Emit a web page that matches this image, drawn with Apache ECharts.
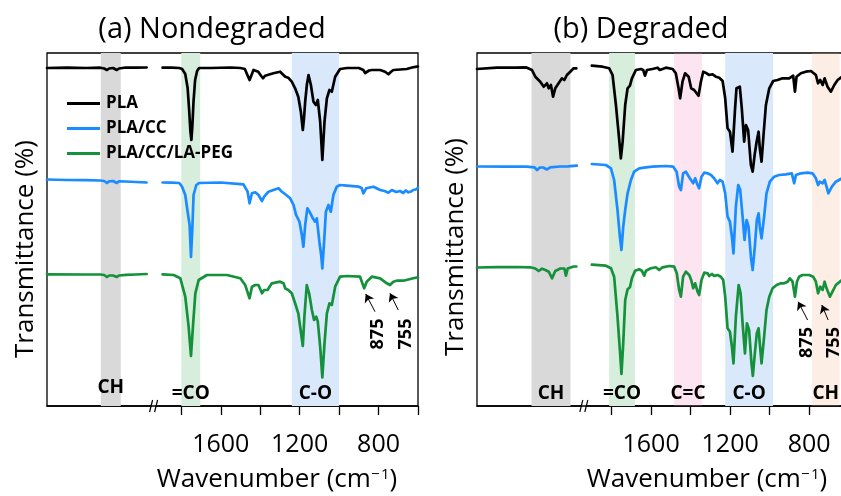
<!DOCTYPE html>
<html><head><meta charset="utf-8">
<script src="https://cdn.jsdelivr.net/npm/echarts@6/dist/echarts.min.js"></script>
<style>html,body{margin:0;padding:0;background:#fff}#c{width:841px;height:496px}</style>
</head><body><div id="c"></div>
<script>
// ---------- DATA: [wavenumber (cm-1), transmittance (a.u., offset spectra)] ----------
const nondegPLA = [[3300,338],[3200,338.3],[3100,338],[3030,338.3],[3010,337.5],[2996,336],[2985,337.5],[2965,338],[2946,336],[2935,337.5],[2900,338.5],[2850,338.3],[2795,338.5],
[1895,338.3],[1850,338.3],[1810,338],[1796,337],[1780,332],[1768,318],[1760,295],[1754,275],[1749,266],[1744,280],[1738,305],[1730,326],[1720,335],[1710,338],[1650,338],[1550,338.5],[1500,338],[1478,337],[1465,331],[1454,326],[1444,331],[1434,336],[1410,334.3],[1395,330],[1386,327.7],[1375,330.3],[1333,332.7],[1299,334.3],[1273,329.3],[1258,328.3],[1240,324.3],[1223,317.7],[1207,309.3],[1194,294.3],[1184,276],[1178,287.7],[1172,304.3],[1163,322],[1155,331],[1143,321],[1130,304.3],[1118,301],[1108,306],[1096,284.3],[1085,246],[1074,284.3],[1062,307.7],[1049,316],[1037,314.3],[1020,329.3],[995,337],[960,338],[900,338],[877,336],[868,333],[860,332.7],[848,335.5],[834,336],[792,336],[767,334.3],[750,331.7],[738,334],[725,336],[690,336.5],[657,337],[630,338.5],[607,339.3],[600,339.5]];

const nondegCC = [[3300,226.5],[3200,226],[3100,225.8],[3030,225.5],[3010,225],[2996,223],[2985,224.7],[2965,225],[2946,223],[2935,224.7],[2900,224.5],[2850,224],[2795,223.5],
[1895,223.5],[1850,223.3],[1810,223],[1796,219.3],[1780,211],[1768,194.3],[1758,181],[1751,149],[1744,177.7],[1738,211],[1724,221],[1710,223],[1600,223.5],[1485,221.7],[1464,214.3],[1454,202.7],[1442,212.7],[1425,213.7],[1409,211],[1391,205],[1380,209.3],[1358,214.3],[1333,216],[1307,217.7],[1290,214.3],[1273,211.7],[1248,207.7],[1231,201],[1218,191],[1201,184.3],[1189,171],[1181,159.3],[1172,181],[1161,197.7],[1150,194.3],[1133,187.7],[1122,184.3],[1113,187.7],[1100,164.3],[1091,151],[1085,137.7],[1076,164.3],[1067,194.3],[1054,201],[1042,194.3],[1029,211],[1012,219.3],[995,221],[961,220.3],[900,219.3],[886,218],[877,212.7],[863,217.7],[826,219.3],[792,216],[770,215],[750,213.3],[733,216],[710,214],[691,215],[675,213],[662,215.5],[649,213.7],[635,214.5],[624,216],[612,216.5],[600,218.3]];

const nondegPEG = [[3300,131.7],[3100,131.5],[3030,131.5],[3010,131],[2996,129],[2985,130.5],[2965,130.5],[2946,129],[2935,130.5],[2900,131.2],[2850,131.5],[2795,132],
[1895,131.7],[1839,131],[1805,127.7],[1780,109.3],[1763,79.3],[1751,50],[1741,79.3],[1729,112.7],[1712,126],[1670,131],[1569,131],[1501,127.7],[1476,121],[1454,107.7],[1442,119.3],[1425,121],[1409,121],[1391,112.7],[1380,116],[1363,116],[1341,122.7],[1299,124.3],[1282,122.7],[1273,117.7],[1258,116],[1240,112.7],[1223,102.7],[1207,92.7],[1184,60],[1176,89.3],[1164,121],[1152,112.7],[1138,96],[1127,86],[1116,89.3],[1108,84.3],[1096,59.3],[1085,28.7],[1074,62.7],[1062,92.7],[1049,102.7],[1037,101],[1020,119.3],[995,129.3],[961,130],[894,129.3],[873,117.7],[860,124.3],[834,129.3],[792,127.7],[758,122.7],[742,121],[725,124.3],[708,125.3],[674,125.3],[624,127.7],[600,128.7]];

const degPLA = [[3300,337],[3200,338.3],[3100,338.3],[3060,338.7],[3047,338.3],[3022,336],[3005,329.3],[2980,324.3],[2962,319.3],[2946,322.7],[2937,317.7],[2926,321],[2915,309.3],[2904,317.7],[2887,322.7],[2870,327.7],[2858,326],[2845,331],[2828,334.3],[2811,337.7],[2797,337.7],
[1900,340.3],[1846,339.3],[1812,337.7],[1795,331],[1778,301],[1762,267.7],[1753,247.7],[1744,264.3],[1731,301],[1719,317.7],[1707,320.3],[1697,327.7],[1677,336],[1652,337],[1640,336],[1631,330.3],[1621,336],[1593,337],[1567,338.3],[1556,336],[1525,338.3],[1491,337],[1475,332.7],[1461,317.7],[1453,307.7],[1441,324.3],[1428,332.7],[1410,329.3],[1397,317.7],[1382,316],[1373,314.3],[1360,310.3],[1348,324.3],[1336,334.3],[1319,332.7],[1306,331],[1289,331.7],[1272,329.3],[1255,328.3],[1238,325],[1225,307.7],[1213,277.7],[1201,274.3],[1188,254.3],[1176,294.3],[1168,317.7],[1151,319.3],[1141,297.7],[1129,264.3],[1120,281],[1109,276],[1095,241],[1086,234.3],[1076,251],[1066,264.3],[1056,274.3],[1050,257.7],[1041,244.3],[1031,271],[1019,301],[1002,317.7],[982,325],[960,326],[935,327.7],[901,327.7],[881,330.3],[872,314.3],[864,329.3],[842,332.7],[817,334.3],[791,335],[766,331],[755,322.7],[744,326],[732,321],[722,327.7],[707,319.3],[690,314.3],[673,321],[656,326],[634,329.3],[615,331],[600,332]];

const degCC = [[3300,239.5],[3150,239.3],[3050,239.3],[3010,238.7],[2996,236],[2982,238.5],[2965,238.5],[2946,236.5],[2930,238.7],[2880,239.5],[2840,239.7],[2795,240.3],
[1900,242],[1829,241],[1803,237.7],[1787,226],[1770,196],[1758,169.3],[1750,156],[1741,179.3],[1731,196],[1719,212.7],[1702,226],[1686,234.3],[1660,237.7],[1626,238.7],[1593,239.3],[1525,240],[1488,239.3],[1471,234.3],[1458,219.3],[1449,216],[1438,232.7],[1424,234.3],[1404,227.7],[1387,222.7],[1377,227.7],[1365,221],[1357,217.7],[1345,229.3],[1331,233.3],[1314,232.7],[1297,231],[1281,227.7],[1264,222.7],[1252,226],[1238,224.3],[1225,212.7],[1213,189.3],[1201,184.3],[1191,169.3],[1183,152.7],[1171,199.3],[1159,221],[1149,216],[1137,189.3],[1127,166],[1117,186],[1107,179.3],[1095,149.3],[1086,136],[1075,159.3],[1065,186],[1056,192.7],[1050,179.3],[1041,167.7],[1028,189.3],[1016,212.7],[999,224.3],[977,229.3],[952,231],[918,231.7],[888,232.7],[876,222.7],[867,231],[842,232.7],[808,233.3],[783,232.7],[766,227.7],[755,221],[746,224.3],[732,222.7],[722,226],[712,219.3],[703,212.7],[685,219.3],[665,224.3],[634,227.7],[615,230],[600,231]];

const degPEG = [[3300,138.5],[3200,138.8],[3100,139],[3030,138.7],[3005,137.5],[2988,135],[2971,137.3],[2954,136],[2937,134.3],[2920,127.7],[2904,135],[2878,137.5],[2858,137.5],[2850,130.3],[2841,137.5],[2811,139.5],[2797,139.5],
[1900,141.3],[1829,140.3],[1803,137.7],[1787,129.3],[1770,89.3],[1758,56],[1750,32],[1741,62.7],[1731,106],[1719,116.7],[1707,118.7],[1697,127.7],[1681,135.3],[1660,136.7],[1647,135.3],[1635,130.3],[1626,135.3],[1601,137.7],[1576,138.7],[1559,136],[1542,138.7],[1508,140],[1483,139.3],[1470,132.7],[1458,116],[1449,109.3],[1438,129.3],[1424,134.3],[1407,131],[1397,126],[1387,117.7],[1377,122.7],[1365,114.3],[1357,111],[1345,126],[1331,133.3],[1314,132.7],[1306,130],[1292,132],[1281,130],[1264,131],[1247,129.3],[1235,126],[1225,109.3],[1213,77.7],[1201,74.3],[1191,59.3],[1183,42.7],[1171,89.3],[1157,121],[1147,112.7],[1137,82.7],[1125,52.7],[1115,82.7],[1104,76],[1092,42.7],[1085,30],[1075,52.7],[1065,72.7],[1056,77.7],[1050,62.7],[1041,42.7],[1028,69.3],[1016,96],[1002,109.3],[985,117.7],[965,121],[943,122.7],[927,122.7],[909,124.3],[898,127.7],[884,124.3],[872,109.3],[862,124.3],[851,129.3],[834,131],[800,131],[780,129.3],[766,124.3],[755,112.7],[744,119.3],[732,116],[722,124.3],[712,117.7],[695,109.3],[682,114.3],[665,121],[634,126],[615,128],[600,129]];

const seriesNames = ['PLA', 'PLA/CC', 'PLA/CC/LA-PEG'];
const tickValues = [1800, 1600, 1400, 1200, 1000, 800, 600];
const labelValues = [1600, 1200, 800];

// bands: [label, from, to, kind]
const bandsA = [['CH', 3027, 2926, 'gray'], ['=CO', 1800, 1704, 'green'], ['C-O', 1240, 1000, 'blue']];
const bandsB = [['CH', 3024, 2827, 'gray'], ['=CO', 1812, 1682, 'green'], ['C=C', 1484, 1343, 'pink'], ['C-O', 1225, 983, 'blue'], ['CH', 786, 646, 'peach']];

// arrows: [tailW, tailT, headW, headT];  peak labels: [text, w, t]
const arrowsA = [[818, 94.3, 865, 112], [700, 96, 742, 112.7]];
const arrowsB = [[808, 86, 856, 104.3], [704, 86, 736, 101]];
const peakLabelsA = [['875', 801, 72], ['755', 659, 72]];
const peakLabelsB = [['875', 811, 63.5], ['755', 677, 63.5]];

// ---------- broken axis mapping ----------
const BREAK_W = 2300, SHIFT = 819, GAP_V = 1938, X_MIN = 600, X_MAX = 2481;
const toV = w => (w > BREAK_W ? w - SHIFT : w);
function build(pairs) {
  const out = [];
  for (let i = 0; i < pairs.length; i++) {
    if (i > 0 && pairs[i - 1][0] > BREAK_W && pairs[i][0] < BREAK_W) out.push([GAP_V, '-']);
    out.push([toV(pairs[i][0]), pairs[i][1]]);
  }
  return out;
}

const FONT = '"Open Sans", "Liberation Sans", sans-serif';
const lineColors = ['#000000', '#1a8cff', '#14913a'];
const under = { gray: '#d9d9d9', green: '#d8eedd', blue: '#d9e9fb' };
const over = { pink: 'rgba(243,147,195,0.25)', peach: 'rgba(243,187,147,0.25)' };

const chart = echarts.init(document.getElementById('c'), null, { renderer: 'canvas' });

const grids = [
  { left: 47, top: 53, width: 371, height: 353 },
  { left: 477, top: 53, width: 371.7, height: 353 }
].map(g => Object.assign(g, { show: true, borderColor: '#000', borderWidth: 1.3, containLabel: false, outerBoundsMode: 'none', backgroundColor: 'transparent' }));

const xAxes = [0, 1].map(i => ({
  type: 'value', gridIndex: i, inverse: true, min: X_MIN, max: X_MAX, interval: 200,
  axisLine: { show: true, onZero: false, lineStyle: { color: '#000', width: 1.5 } },
  axisTick: { show: true, inside: false, length: 9, customValues: tickValues, lineStyle: { color: '#000', width: 1.3 } },
  axisLabel: { show: true, customValues: labelValues, formatter: v => String(v), color: '#000', fontSize: 25, fontFamily: FONT, margin: 26 },
  splitLine: { show: false }
}));
const yAxes = [0, 1].map(i => ({ type: 'value', gridIndex: i, min: 0, max: 353, show: false, splitLine: { show: false } }));

function bandSeries(i, bands, kinds, palette, z) {
  const data = bands.filter(b => kinds.includes(b[3])).map(b => {
    const item = [{ xAxis: toV(b[1]), itemStyle: { color: palette[b[3]], opacity: 1 } }, { xAxis: toV(b[2]) }];
    item[0].name = b[0];
    if (i === 0 && b[0] === 'CH') item[0].label = { distance: 9 };
    return item;
  });
  return {
    type: 'line', xAxisIndex: i, yAxisIndex: i, data: [], z: z, silent: true,
    markArea: {
      silent: true,
      label: { show: true, position: 'insideBottom', distance: 3, color: '#000', fontWeight: 'bold', fontSize: 19, fontFamily: FONT },
      data: data
    }
  };
}

const panels = [[nondegPLA, nondegCC, nondegPEG], [degPLA, degCC, degPEG]];
const arrows = [arrowsA, arrowsB];
const peaks = [peakLabelsA, peakLabelsB];
const series = [];
[0, 1].forEach(i => {
  series.push(bandSeries(i, i === 0 ? bandsA : bandsB, ['gray', 'green', 'blue'], under, 1));
  panels[i].forEach((d, k) => {
    const s = {
      type: 'line', name: seriesNames[k], xAxisIndex: i, yAxisIndex: i, data: build(d),
      symbol: 'none', showSymbol: false, connectNulls: false, z: 2, silent: true,
      lineStyle: { color: lineColors[k], width: 2.7, join: 'round', cap: 'round' },
      itemStyle: { color: lineColors[k] }
    };
    if (k === 2) {
      s.markLine = {
        silent: true, symbol: ['none', 'arrow'], symbolSize: 8, precision: 5,
        lineStyle: { color: '#000', width: 1, type: 'solid' }, label: { show: false },
        data: arrows[i].map(a => [{ coord: [toV(a[0]), a[1]] }, { coord: [toV(a[2]), a[3]] }])
      };
      s.markPoint = {
        silent: true, symbol: 'circle', symbolSize: 1, itemStyle: { color: 'rgba(0,0,0,0)' },
        label: { show: true, position: 'inside', rotate: 90, formatter: p => p.name, color: '#000', fontWeight: 'bold', fontSize: 18, fontFamily: FONT },
        data: peaks[i].map(p => ({ name: p[0], coord: [toV(p[1]), p[2]] }))
      };
    }
    series.push(s);
  });
  if (i === 1) series.push(bandSeries(i, bandsB, ['pink', 'peach'], over, 3));
});

chart.setOption({
  animation: false,
  backgroundColor: '#fff',
  grid: grids, xAxis: xAxes, yAxis: yAxes, series: series,
  legend: {
    data: seriesNames, orient: 'vertical', left: 62, top: 90, itemGap: 8, itemWidth: 33, itemHeight: 3,
    icon: 'rect', selectedMode: false,
    textStyle: { color: '#000', fontWeight: 'bold', fontSize: 17, fontFamily: FONT, padding: [0, 0, 0, 1] }
  }
});

// texts and break marks
const g = [];
function txt(text, x, y, size, rot) {
  g.push({ type: 'text', x: x, y: y, rotation: rot || 0, silent: true,
    style: { text: text, fill: '#000', font: size + 'px ' + FONT, align: 'center', verticalAlign: 'middle' } });
}
txt('(a) Nondegraded', 212, 30, 29);
txt('(b) Degraded', 641, 30, 29);
txt('Transmittance (%)', 26, 249, 26, Math.PI / 2);
txt('Transmittance (%)', 456, 247, 26, Math.PI / 2);
[[277, 480], [707, 480]].forEach(p => {
  g.push({ type: 'text', x: p[0], y: p[1], silent: true,
    style: { text: '{n|Wavenumber (cm}{s|\u2212\u200a1}{n|)}', align: 'center', verticalAlign: 'middle',
      rich: { n: { fontSize: 26, fontFamily: FONT, fill: '#000' }, s: { fontSize: 15, fontFamily: FONT, fill: '#000', verticalAlign: 'top' } } } });
});
[0, 1].forEach(i => {
  const p = chart.convertToPixel({ xAxisIndex: i, yAxisIndex: i }, [GAP_V, 0]);
  const x = p[0], y = p[1];
  g.push({ type: 'polygon', silent: true, shape: { points: [[x - 4, y + 6], [x - 1, y - 6], [x + 3, y - 6], [x, y + 6]] }, style: { fill: '#fff' } });
  g.push({ type: 'line', silent: true, shape: { x1: x - 4.5, y1: y + 6, x2: x - 1.5, y2: y - 6 }, style: { stroke: '#000', lineWidth: 1.2 } });
  g.push({ type: 'line', silent: true, shape: { x1: x + 0.5, y1: y + 6, x2: x + 3.5, y2: y - 6 }, style: { stroke: '#000', lineWidth: 1.2 } });
});
chart.setOption({ graphic: g });
</script></body></html>
